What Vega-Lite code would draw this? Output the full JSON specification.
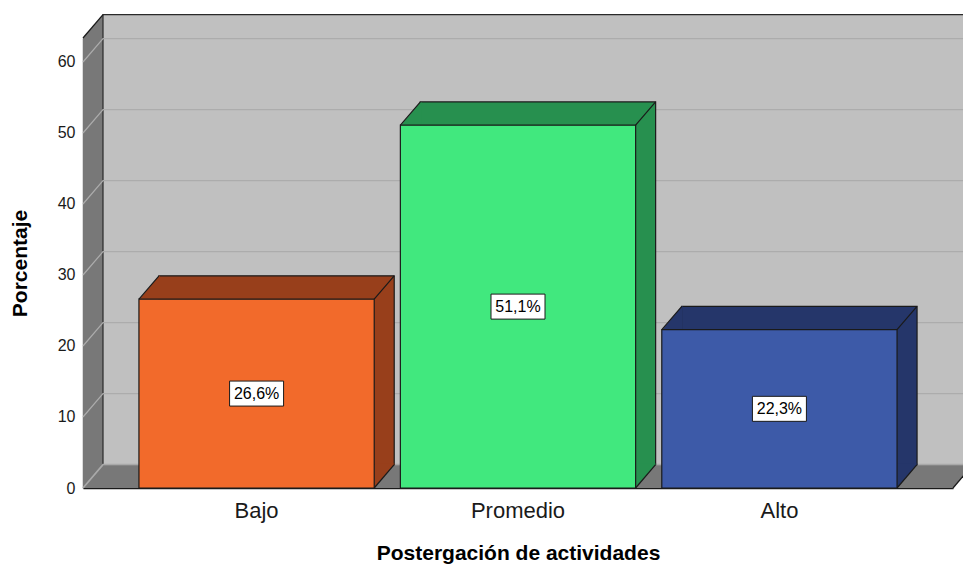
{
  "$schema": "https://vega.github.io/schema/vega-lite/v6.json",
  "width": 870,
  "height": 450,
  "autosize": "none",
  "padding": {"left": 83, "top": 38, "right": 10, "bottom": 78},
  "background": "white",
  "config": {
    "view": {"stroke": null},
    "font": "Liberation Sans",
    "axisY": {"grid": false, "ticks": false, "tickSize": 0, "domain": true, "domainColor": "#1a1a1a", "domainWidth": 1.3, "labelFont": "Liberation Sans", "labelFontSize": 16, "labelColor": "#1a1a1a", "labelPadding": 8, "titleFont": "Liberation Sans", "titleFontSize": 21, "titleFontWeight": "bold", "titleColor": "#000000", "titlePadding": 27, "zindex": 1},
    "axisX": {"grid": false, "ticks": false, "tickSize": 0, "domain": true, "domainColor": "#1a1a1a", "domainWidth": 1.3, "labelAngle": 0, "labelFont": "Liberation Sans", "labelFontSize": 22, "labelColor": "#1a1a1a", "labelPadding": 12, "titleFont": "Liberation Sans", "titleFontSize": 21, "titleFontWeight": "bold", "titleColor": "#000000", "titlePadding": 21, "zindex": 1}
  },
  "data": {"values": [
    {"cat": "Bajo", "value": 26.6, "label": "26,6%"},
    {"cat": "Promedio", "value": 51.1, "label": "51,1%"},
    {"cat": "Alto", "value": 22.3, "label": "22,3%"}
  ]},
  "layer": [
    {
      "data": {"values": [{"part": "frame"}]},
      "layer": [
        {"mark": {"type": "rect", "fill": "#787878"},
         "encoding": {
           "x": {"datum": 0, "type": "quantitative", "scale": {"domain": [0, 1], "nice": false, "zero": false}, "axis": null},
           "x2": {"datum": 1},
           "y": {"datum": 0, "type": "quantitative", "scale": {"domain": [0, 63.38], "nice": false, "zero": true}, "axis": {"values": [0, 10, 20, 30, 40, 50, 60], "title": "Porcentaje"}},
           "y2": {"datum": 63.38}}},
        {"mark": {"type": "point", "shape": "M-435,0 L-415,-23.3 L-415,0.5 Z", "size": 4, "filled": true, "fill": "#787878", "strokeWidth": 0, "opacity": 1},
         "encoding": {"y": {"datum": 63.38, "type": "quantitative", "axis": {"values": [0, 10, 20, 30, 40, 50, 60], "title": "Porcentaje"}}}},
        {"mark": {"type": "point", "shape": "M434.5,0.5 L455,-23.3 L434.5,-23.3 Z", "size": 4, "filled": true, "fill": "#787878", "strokeWidth": 0, "opacity": 1},
         "encoding": {"y": {"datum": 0, "type": "quantitative", "axis": {"values": [0, 10, 20, 30, 40, 50, 60], "title": "Porcentaje"}}}},
        {"mark": {"type": "rect", "fill": "#c0c0c0", "stroke": "#2a2a2a", "strokeWidth": 1.2, "xOffset": 20, "x2Offset": 20, "yOffset": -23.3, "y2Offset": -23.3},
         "encoding": {
           "x": {"datum": 0, "type": "quantitative", "axis": null},
           "x2": {"datum": 1},
           "y": {"datum": 0, "type": "quantitative", "axis": {"values": [0, 10, 20, 30, 40, 50, 60], "title": "Porcentaje"}},
           "y2": {"datum": 63.38}}},
        {"mark": {"type": "point", "shape": "M-435,0 L-415,-23.3 L455,-23.3", "size": 4, "filled": false, "stroke": "#a9a9a9", "strokeWidth": 1.7, "opacity": 1},
         "encoding": {"y": {"datum": 0, "type": "quantitative", "axis": {"values": [0, 10, 20, 30, 40, 50, 60], "title": "Porcentaje"}}}},
        {"mark": {"type": "point", "shape": "M-435,0 L-415,-23.3 L455,-23.3", "size": 4, "filled": false, "stroke": "#acacac", "strokeWidth": 1.2, "opacity": 1},
         "encoding": {"y": {"datum": 10, "type": "quantitative", "axis": {"values": [0, 10, 20, 30, 40, 50, 60], "title": "Porcentaje"}}}},
        {"mark": {"type": "point", "shape": "M-435,0 L-415,-23.3 L455,-23.3", "size": 4, "filled": false, "stroke": "#acacac", "strokeWidth": 1.2, "opacity": 1},
         "encoding": {"y": {"datum": 20, "type": "quantitative", "axis": {"values": [0, 10, 20, 30, 40, 50, 60], "title": "Porcentaje"}}}},
        {"mark": {"type": "point", "shape": "M-435,0 L-415,-23.3 L455,-23.3", "size": 4, "filled": false, "stroke": "#acacac", "strokeWidth": 1.2, "opacity": 1},
         "encoding": {"y": {"datum": 30, "type": "quantitative", "axis": {"values": [0, 10, 20, 30, 40, 50, 60], "title": "Porcentaje"}}}},
        {"mark": {"type": "point", "shape": "M-435,0 L-415,-23.3 L455,-23.3", "size": 4, "filled": false, "stroke": "#acacac", "strokeWidth": 1.2, "opacity": 1},
         "encoding": {"y": {"datum": 40, "type": "quantitative", "axis": {"values": [0, 10, 20, 30, 40, 50, 60], "title": "Porcentaje"}}}},
        {"mark": {"type": "point", "shape": "M-435,0 L-415,-23.3 L455,-23.3", "size": 4, "filled": false, "stroke": "#acacac", "strokeWidth": 1.2, "opacity": 1},
         "encoding": {"y": {"datum": 50, "type": "quantitative", "axis": {"values": [0, 10, 20, 30, 40, 50, 60], "title": "Porcentaje"}}}},
        {"mark": {"type": "point", "shape": "M-435,0 L-415,-23.3 L455,-23.3", "size": 4, "filled": false, "stroke": "#acacac", "strokeWidth": 1.2, "opacity": 1},
         "encoding": {"y": {"datum": 60, "type": "quantitative", "axis": {"values": [0, 10, 20, 30, 40, 50, 60], "title": "Porcentaje"}}}},
        {"mark": {"type": "point", "shape": "M-435,0 L-415,-23.3", "size": 4, "filled": false, "stroke": "#1a1a1a", "strokeWidth": 1.3, "opacity": 1},
         "encoding": {"y": {"datum": 63.38, "type": "quantitative", "axis": {"values": [0, 10, 20, 30, 40, 50, 60], "title": "Porcentaje"}}}},
        {"mark": {"type": "point", "shape": "M435,0 L455,-23.3", "size": 4, "filled": false, "stroke": "#1a1a1a", "strokeWidth": 1.3, "opacity": 1},
         "encoding": {"y": {"datum": 0, "type": "quantitative", "axis": {"values": [0, 10, 20, 30, 40, 50, 60], "title": "Porcentaje"}}}}
      ]
    },
    {
      "layer": [
        {"mark": {"type": "bar", "stroke": "#1a1a1a", "strokeWidth": 1.2, "xOffset": 20, "x2Offset": 20, "yOffset": -23.3, "y2Offset": -23.3},
         "encoding": {
           "x": {"field": "cat", "type": "nominal", "sort": ["Bajo", "Promedio", "Alto"], "scale": {"type": "band", "paddingInner": 0.1, "paddingOuter": 0.214}, "title": "Postergación de actividades"},
           "y": {"field": "value", "type": "quantitative", "scale": {"domain": [0, 63.38], "nice": false, "zero": true}, "axis": null},
           "fill": {"field": "cat", "type": "nominal", "scale": {"domain": ["Bajo", "Promedio", "Alto"], "range": ["#983f1b", "#27904f", "#25366a"]}, "legend": null}}},
        {"mark": {"type": "point", "shape": "M-117.6,0.5 L-97.6,-23.3 L-96.6,-23.3 L-96.6,0.5 Z", "size": 4, "filled": true, "strokeWidth": 0, "opacity": 1},
         "encoding": {
           "x": {"field": "cat", "type": "nominal", "sort": ["Bajo", "Promedio", "Alto"], "title": "Postergación de actividades"},
           "y": {"field": "value", "type": "quantitative", "axis": null},
           "fill": {"field": "cat", "type": "nominal", "legend": null}}},
        {"mark": {"type": "point", "shape": "M117.6,0 L117.6,-24.3 L138.4,-24.3 Z", "size": 4, "filled": true, "strokeWidth": 0, "opacity": 1},
         "encoding": {
           "x": {"field": "cat", "type": "nominal", "sort": ["Bajo", "Promedio", "Alto"], "title": "Postergación de actividades"},
           "y": {"datum": 0, "type": "quantitative", "axis": null},
           "fill": {"field": "cat", "type": "nominal", "legend": null}}},
        {"mark": {"type": "point", "shape": "M-117.6,0 L-97.6,-23.3 M117.6,0 L137.6,-23.3", "size": 4, "filled": false, "stroke": "#1a1a1a", "strokeWidth": 1.2, "opacity": 1},
         "encoding": {
           "x": {"field": "cat", "type": "nominal", "sort": ["Bajo", "Promedio", "Alto"], "title": "Postergación de actividades"},
           "y": {"field": "value", "type": "quantitative", "axis": null}}},
        {"mark": {"type": "point", "shape": "M117.6,0 L137.6,-23.3", "size": 4, "filled": false, "stroke": "#1a1a1a", "strokeWidth": 1.2, "opacity": 1},
         "encoding": {
           "x": {"field": "cat", "type": "nominal", "sort": ["Bajo", "Promedio", "Alto"], "title": "Postergación de actividades"},
           "y": {"datum": 0, "type": "quantitative", "axis": null}}},
        {"mark": {"type": "bar", "stroke": "#1a1a1a", "strokeWidth": 1.2},
         "encoding": {
           "x": {"field": "cat", "type": "nominal", "sort": ["Bajo", "Promedio", "Alto"], "title": "Postergación de actividades"},
           "y": {"field": "value", "type": "quantitative", "axis": null},
           "color": {"field": "cat", "type": "nominal", "scale": {"domain": ["Bajo", "Promedio", "Alto"], "range": ["#f26a2b", "#41e87e", "#3d5aa8"]}, "legend": null}}}
      ]
    },
    {
      "layer": [
        {"mark": {"type": "point", "shape": "M-27,-12.5 L27,-12.5 L27,12.5 L-27,12.5 Z", "size": 4, "filled": true, "fill": "#ffffff", "stroke": "#1a1a1a", "strokeWidth": 1, "opacity": 1},
         "encoding": {
           "x": {"field": "cat", "type": "nominal", "sort": ["Bajo", "Promedio", "Alto"], "scale": {"type": "band", "paddingInner": 0.1, "paddingOuter": 0.214}, "axis": null},
           "y": {"field": "value", "type": "quantitative", "scale": {"domain": [0, 126.76], "nice": false, "zero": true}, "axis": null}}},
        {"mark": {"type": "text", "font": "Liberation Sans", "fontSize": 16, "color": "#000000", "baseline": "middle", "align": "center"},
         "encoding": {
           "x": {"field": "cat", "type": "nominal", "sort": ["Bajo", "Promedio", "Alto"], "axis": null},
           "y": {"field": "value", "type": "quantitative", "axis": null},
           "text": {"field": "label"}}}
      ]
    }
  ],
  "resolve": {"scale": {"x": "independent", "y": "independent"}}
}
